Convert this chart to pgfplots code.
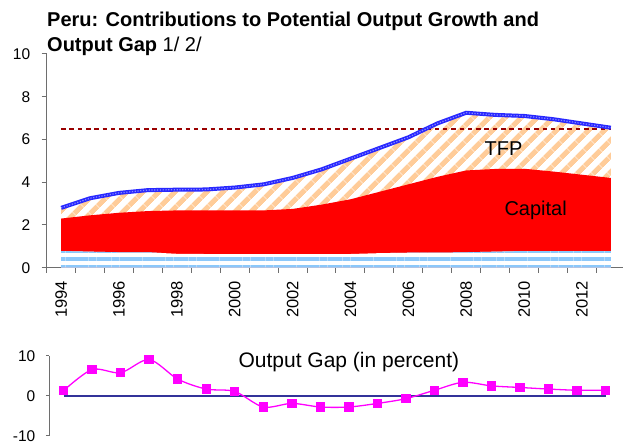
\documentclass[border=0pt]{standalone}
\usepackage{fontspec}
\setmainfont{Liberation Sans}
\usepackage{pgfplots}
\usepackage{pgfplotstable}
\pgfplotsset{compat=1.18}
\usetikzlibrary{patterns.meta}

\definecolor{capred}{RGB}{255,0,0}
\definecolor{tfporange}{RGB}{255,204,153}
\definecolor{laborblue}{RGB}{140,200,250}
\definecolor{potblue}{RGB}{40,40,255}
\definecolor{dashred}{RGB}{153,0,0}
\definecolor{gapmag}{RGB}{255,0,255}
\definecolor{zeronavy}{RGB}{51,51,153}
\definecolor{axgray}{RGB}{110,110,110}

\pgfplotstableread{
year lab cap pot
1994 0.78 2.30 2.80
1995 0.75 2.45 3.25
1996 0.72 2.57 3.50
1997 0.72 2.65 3.63
1998 0.65 2.68 3.65
1999 0.64 2.68 3.66
2000 0.64 2.68 3.75
2001 0.64 2.68 3.90
2002 0.64 2.75 4.20
2003 0.64 2.95 4.60
2004 0.64 3.20 5.10
2005 0.68 3.55 5.60
2006 0.70 3.90 6.10
2007 0.70 4.25 6.75
2008 0.72 4.55 7.25
2009 0.75 4.62 7.15
2010 0.78 4.63 7.10
2011 0.78 4.50 6.95
2012 0.78 4.35 6.75
2013 0.78 4.20 6.55
}\datatop

\pgfplotstableread{
year gap
1994 1.3
1995 6.6
1996 5.8
1997 9.1
1998 4.2
1999 1.7
2000 1.1
2001 -2.8
2002 -1.9
2003 -2.8
2004 -2.8
2005 -1.9
2006 -0.7
2007 1.4
2008 3.4
2009 2.5
2010 2.1
2011 1.7
2012 1.4
2013 1.4
}\datagap

\begin{document}
\begin{tikzpicture}[x=1bp,y=1bp]
\useasboundingbox (0,0) rectangle (623,444);
\node[anchor=base west, inner sep=0pt, font=\fontsize{20bp}{24bp}\selectfont] at (47,417) {\textbf{Peru: Contributions to Potential Output Growth and}};
\node[anchor=base west, inner sep=0pt, font=\fontsize{20bp}{24bp}\selectfont] at (47,392) {\textbf{Output Gap} 1/ 2/};

\begin{axis}[
  at={(46.7bp,176.3bp)}, anchor=south west,
  scale only axis, width=578.6bp, height=213.7bp,
  xmin=1993.5, xmax=2013.5, ymin=0, ymax=10,
  axis x line*=bottom, axis y line*=left,
  axis line style={axgray, line width=1bp, -},
  every tick/.style={axgray, line width=1bp},
  tick align=outside, major tick length=5bp,
  ytick={0,2,...,10},
  xtick={1993.5,1994.5,...,2013.5},
  xticklabels={},
  extra x ticks={1994,1996,...,2012},
  extra x tick labels={1994,1996,1998,2000,2002,2004,2006,2008,2010,2012},
  extra x tick style={major tick length=0pt, xticklabel style={yshift=-10bp, rotate=90, anchor=east, font=\fontsize{16.5bp}{19bp}\selectfont}},
  /pgf/number format/assume math mode=true,
  tick label style={font=\fontsize{15.5bp}{18bp}\selectfont, black},
  yticklabel style={xshift=-8bp},
]
\addplot[draw=none, fill=white, postaction={pattern={Lines[angle=45,distance=11.8bp,line width=5.5bp]}, pattern color=tfporange}] table[x=year,y=pot]{\datatop} \closedcycle;
\addplot[draw=none, fill=capred] table[x=year,y=cap]{\datatop} \closedcycle;
\addplot[draw=none, fill=white, postaction={pattern={Lines[angle=0,distance=7.7bp,line width=4bp]}, pattern color=laborblue}] table[x=year,y=lab]{\datatop} \closedcycle;
\addplot[dashred, line width=2.5bp, dash pattern=on 4.5bp off 3.8bp] coordinates {(1994,6.5) (2013,6.5)};
\addplot[potblue, line width=4bp] table[x=year,y=pot]{\datatop};
\addplot[white, opacity=0.45, line width=1.2bp, dash pattern=on 1.2bp off 1.6bp] table[x=year,y=pot]{\datatop};
\node[anchor=base, font=\fontsize{20bp}{24bp}\selectfont] at (axis cs:2009.29,5.23) {TFP};
\node[anchor=base, font=\fontsize{20bp}{24bp}\selectfont] at (axis cs:2010.4,2.43) {Capital};
\end{axis}

\begin{axis}[
  at={(49.3bp,8.3bp)}, anchor=south west,
  scale only axis, width=570.6bp, height=79.7bp,
  xmin=1993.5, xmax=2013.5, ymin=-10, ymax=10,
  clip=false,
  axis x line=none, axis y line*=left,
  axis line style={axgray, line width=1bp, -},
  every tick/.style={axgray, line width=1bp},
  tick align=outside, major tick length=3.5bp,
  ytick={-10,0,10},
  /pgf/number format/assume math mode=true,
  tick label style={font=\fontsize{15.5bp}{18bp}\selectfont, black},
  yticklabel style={xshift=-7bp},
]
\addplot[zeronavy, line width=2bp] coordinates {(1994,0) (2013,0)};
\addplot[gapmag, line width=1.3bp, smooth, tension=0.5, mark=square*, mark size=4.2bp, mark options={fill=gapmag, draw=gapmag, line width=0pt}] table[x=year,y=gap]{\datagap};
\node[anchor=base, font=\fontsize{21bp}{25bp}\selectfont] at (axis cs:2004.0,7.1) {Output Gap (in percent)};
\end{axis}
\end{tikzpicture}
\end{document}
